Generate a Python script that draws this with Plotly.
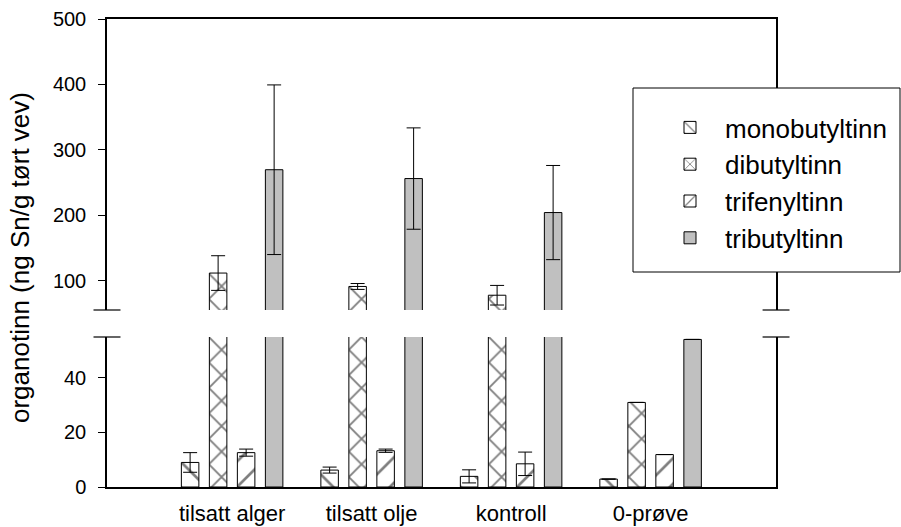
import plotly.graph_objects as go

# ---------------- data ----------------
categories = ["tilsatt alger", "tilsatt olje", "kontroll", "0-prøve"]
series_names = ["monobutyltinn", "dibutyltinn", "trifenyltinn", "tributyltinn"]

mono = [9.0, 6.2, 3.9, 2.9]
mono_err = [3.6, 1.1, 2.4, None]
dibutyl = [111.5, 91.0, 77.6, 31.0]
dibutyl_err = [26.5, 4.5, 15.0, None]
trifenyl = [12.6, 13.3, 8.5, 11.9]
trifenyl_err = [1.3, 0.6, 4.3, None]
tributyl = [269.5, 256.0, 204.0, 54.1]
tributyl_err = [129.7, 77.5, 72.0, None]

lower_ticks = [0, 20, 40]
upper_ticks = [100, 200, 300, 400, 500]
axis_break = 55
y_max = 500

values = [mono, dibutyl, trifenyl, tributyl]
errors = [mono_err, dibutyl_err, trifenyl_err, tributyl_err]

# ---------------- styles ----------------
FONT = "Liberation Sans, Arial, sans-serif"
patterns = [
    dict(shape="\\", size=18, solidity=0.15, fgcolor="black", bgcolor="white"),
    dict(shape="x", size=18, solidity=0.2, fgcolor="black", bgcolor="white"),
    dict(shape="/", size=18, solidity=0.15, fgcolor="black", bgcolor="white"),
    None,
]
fills = ["white", "white", "white", "#c0c0c0"]

W, H = 901, 527
ML, MR, MT, MB = 107, 125, 19, 40
plot_h = H - MT - MB
pw = W - ML - MR
lower_top_px = 337   # pixel y of top of lower panel
upper_bot_px = 310   # pixel y of bottom of upper panel
bottom_px = H - MB
lower_dom = [0, (bottom_px - lower_top_px) / plot_h]
upper_dom = [(bottom_px - upper_bot_px) / plot_h, 1]

fig = go.Figure()
for i, name in enumerate(series_names):
    upper_vals = [v if v > axis_break else None for v in values[i]]
    for ax_x, ax_y, show, vals in (("x", "y", True, values[i]),
                                   ("x2", "y2", False, upper_vals)):
        marker = dict(color=fills[i], line=dict(color="black", width=1))
        if patterns[i] is not None:
            marker["pattern"] = patterns[i]
        fig.add_trace(go.Bar(
            x=categories, y=vals, name=name,
            xaxis=ax_x, yaxis=ax_y, showlegend=show, legendgroup=name,
            marker=marker,
            error_y=dict(type="data", array=errors[i], visible=True,
                         color="black", thickness=1, width=7),
        ))

xr = [-0.897, 3.899]
fig.update_layout(
    width=W, height=H,
    margin=dict(l=ML, r=MR, t=MT, b=MB, autoexpand=False),
    paper_bgcolor="white", plot_bgcolor="white",
    font=dict(family=FONT, size=20, color="black"),
    barmode="group", bargap=0.197, bargroupgap=0.375,
    xaxis=dict(domain=[0, 1], range=xr, anchor="y", showline=True, linecolor="black",
               linewidth=1.5, ticks="", showgrid=False, zeroline=False, automargin=False,
               tickfont=dict(size=22), ticklabelstandoff=6),
    xaxis2=dict(domain=[0, 1], range=xr, anchor="y2", matches="x", side="top",
                showline=True, linecolor="black", linewidth=1.5, ticks="",
                showticklabels=False, showgrid=False, zeroline=False, automargin=False),
    yaxis=dict(domain=lower_dom, range=[0, axis_break], tickvals=lower_ticks,
               showline=True, mirror=True, linecolor="black", linewidth=1.5,
               ticks="outside", ticklen=7, tickcolor="black", showgrid=False,
               zeroline=False, tickfont=dict(size=20), ticklabelstandoff=8,
               automargin=False),
    yaxis2=dict(domain=upper_dom, range=[axis_break, y_max], tickvals=upper_ticks,
                anchor="x2", showline=True, mirror=True, linecolor="black",
                linewidth=1.5, ticks="outside", ticklen=7, tickcolor="black",
                showgrid=False, zeroline=False, tickfont=dict(size=20),
                ticklabelstandoff=8, automargin=False),
    legend=dict(x=(655 - ML) / pw, y=(bottom_px - 104) / plot_h,
                xanchor="left", yanchor="top", bgcolor="rgba(0,0,0,0)",
                borderwidth=0, font=dict(size=26), itemwidth=60,
                tracegroupgap=0),
    showlegend=True,
)

# legend frame
fig.add_shape(type="rect", xref="paper", yref="paper",
              x0=(633 - ML) / pw, x1=(900 - ML) / pw,
              y0=(bottom_px - 272) / plot_h, y1=(bottom_px - 88) / plot_h,
              fillcolor="white", line=dict(color="black", width=1), layer="above")

# axis break marks
half = 13.5 / pw
for xc in (0, 1):
    for yp in (lower_dom[1], upper_dom[0]):
        fig.add_shape(type="line", xref="paper", yref="paper",
                      x0=xc - half, x1=xc + half, y0=yp, y1=yp,
                      line=dict(color="black", width=1.2), layer="above")

fig.add_annotation(text="organotinn (ng Sn/g tørt vev)", xref="paper", yref="paper",
                   x=(20 - ML) / pw, y=(bottom_px - 258) / plot_h, textangle=-90,
                   showarrow=False, font=dict(size=26), xanchor="center", yanchor="middle")

fig.write_html("out.html")
